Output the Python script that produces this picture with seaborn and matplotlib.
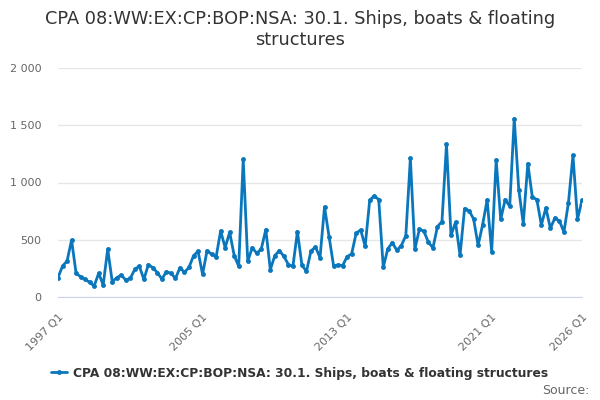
import matplotlib
matplotlib.use("Agg")
import matplotlib.pyplot as plt
import seaborn as sns
import pandas as pd

title = "CPA 08:WW:EX:CP:BOP:NSA: 30.1. Ships, boats & floating structures"

# quarterly values, 1997 Q1 .. 2026 Q1
values = [
    170, 270, 314, 497,
    207, 177, 154, 128,
    96, 207, 105, 419,
    134, 168, 192, 148,
    163, 242, 270, 154,
    282, 256, 212, 157,
    221, 207, 163, 256,
    215, 259, 360, 400,
    198, 406, 373, 350,
    577, 431, 566, 362,
    268, 1201, 312, 431,
    382, 420, 589, 239,
    362, 405, 356, 283,
    268, 571, 277, 224,
    402, 437, 344, 787,
    528, 274, 280, 274,
    353, 376, 557, 586,
    443, 845, 883, 851,
    259, 420, 475, 408,
    449, 536, 1210, 417,
    592, 574, 478, 429,
    615, 659, 1335, 539,
    653, 364, 772, 754,
    682, 451, 632, 848,
    396, 1197, 679, 851,
    792, 1558, 938, 641,
    1165, 874, 851, 629,
    778, 600, 690, 664,
    568, 824, 1238, 679,
    845,
]
quarters = [f"{1997 + i // 4} Q{i % 4 + 1}" for i in range(len(values))]
labelled = ["1997 Q1", "2005 Q1", "2013 Q1", "2021 Q1", "2026 Q1"]

df = pd.DataFrame({"pos": range(len(values)), "quarter": quarters, "value": values})

sns.set_style("white")
plt.rcParams["font.family"] = ["DejaVu Sans"]

fig = plt.figure(figsize=(6, 4), dpi=100)
ax = fig.add_axes([0.0967, 0.2575, 0.8733, 0.5725])

color = "#0a77bd"
sns.lineplot(data=df, x="pos", y="value", ax=ax, color=color, linewidth=2,
             marker="o", markersize=3.5, markeredgewidth=0, label=title)

ax.set_xlim(0, len(values) - 1)
ax.set_ylim(0, 2000)
ax.set_yticks([0, 500, 1000, 1500, 2000])
ax.set_yticklabels(["0", "500", "1 000", "1 500", "2 000"], color="#666666", fontsize=8)
ax.yaxis.grid(True, color="#e6e6e6", linewidth=1)
ax.tick_params(axis="y", length=0, pad=12)

# tick every 2 years plus the last quarter, labels only on a few
tick_pos = list(range(0, len(values), 8)) + [len(values) - 1]
ax.set_xticks(tick_pos)
ax.set_xticklabels([q if q in labelled else "" for q in df["quarter"].iloc[tick_pos]],
                   rotation=45, ha="right", rotation_mode="anchor",
                   color="#666666", fontsize=8)
ax.tick_params(axis="x", length=8, color="#ccd6eb", width=1, direction="out", pad=3)
for s in ["top", "right", "left"]:
    ax.spines[s].set_visible(False)
ax.spines["bottom"].set_color("#ccd6eb")
ax.set_xlabel("")
ax.set_ylabel("")

fig.suptitle("CPA 08:WW:EX:CP:BOP:NSA: 30.1. Ships, boats & floating\nstructures",
             x=0.5, y=0.975, fontsize=12.8, color="#333333", va="top")
fig.texts[0].set_multialignment("center")

leg = ax.legend(loc="center", bbox_to_anchor=(0.5, 0.0675), bbox_transform=fig.transFigure,
                frameon=False, fontsize=8.8, handlelength=1.3, handletextpad=0.5)
for t in leg.get_texts():
    t.set_fontweight("bold")
    t.set_color("#333333")

fig.text(0.982, 0.025, "Source:", ha="right", va="center", fontsize=9, color="#666666")

fig.savefig("out.png", dpi=100)
